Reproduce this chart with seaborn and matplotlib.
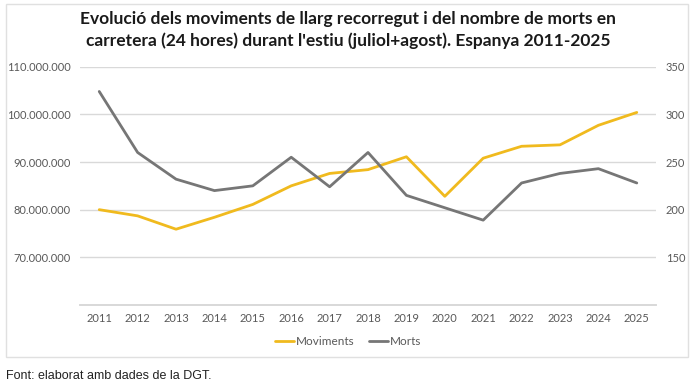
import matplotlib
matplotlib.use("Agg")
import matplotlib.pyplot as plt
from matplotlib.lines import Line2D
from matplotlib.patches import Rectangle
import pandas as pd
import seaborn as sns

years = list(range(2011, 2026))
moviments = [80.0e6, 78.7e6, 75.9e6, 78.4e6, 81.1e6, 85.0e6, 87.6e6, 88.4e6,
             91.1e6, 82.8e6, 90.8e6, 93.3e6, 93.6e6, 97.7e6, 100.4e6]
morts = [324, 260, 232, 220, 225, 255, 224, 260, 215, 202, 189, 228, 238, 243, 228]

left_ticks = [70e6, 80e6, 90e6, 100e6, 110e6]
right_ticks = [150, 200, 250, 300, 350]

title = ("Evolució dels moviments de llarg recorregut i del nombre de morts en\n"
         "carretera (24 hores) durant l'estiu (juliol+agost). Espanya 2011-2025")
source = "Font: elaborat amb dades de la DGT."

GOLD = "#F0BA1E"
GREY = "#767676"
GRID = "#D9D9D9"
TXT = "#595959"

sns.set_theme(style="white")
plt.rcParams["font.family"] = ["Lato", "DejaVu Sans"]

df = pd.DataFrame({"year": years, "moviments": moviments, "morts": morts})

fig = plt.figure(figsize=(6.96, 3.90), dpi=100)
ax = fig.add_axes([0.115, 0.218, 0.8275, 0.611])
ax2 = ax.twinx()

sns.lineplot(data=df, x="year", y="moviments", ax=ax, color=GOLD, linewidth=2)
sns.lineplot(data=df, x="year", y="morts", ax=ax2, color=GREY, linewidth=2)

ax.set_xlim(2010.5, 2025.5)
ax.set_ylim(60e6, 110e6)
ax2.set_ylim(100, 350)
ax.set_yticks(left_ticks)
ax.set_yticklabels([f"{v:,.0f}".replace(",", ".") for v in left_ticks])
ax2.set_yticks(right_ticks)
ax.set_xticks(years)
ax.set_xlabel("")
ax.set_ylabel("")
ax2.set_ylabel("")

ax.grid(axis="y", color=GRID, linewidth=1)
ax.set_axisbelow(True)
for a in (ax, ax2):
    for s in ("left", "right", "top"):
        a.spines[s].set_visible(False)
    a.spines["bottom"].set_color(GRID)
    a.tick_params(length=0, labelsize=8, labelcolor=TXT)
ax.tick_params(axis="y", pad=7)
ax2.tick_params(axis="y", pad=7)
ax.tick_params(axis="x", pad=6)

handles = [Line2D([], [], color=GOLD, linewidth=2),
           Line2D([], [], color=GREY, linewidth=2)]
fig.legend(handles, ["Moviments", "Morts"], loc="center", bbox_to_anchor=(0.5, 0.125),
           ncol=2, frameon=False, fontsize=8.5, handlelength=1.6, handletextpad=0.2,
           columnspacing=1.2, labelcolor=TXT)

fig.text(0.5, 0.923, title, ha="center", va="center", fontsize=12.5,
         fontweight="bold", color="#1a1a1a", linespacing=1.4)

fig.patches.append(Rectangle((0.008, 0.085), 0.98, 0.905, transform=fig.transFigure,
                             fill=False, edgecolor="#E0E0E0", linewidth=1))
fig.text(0.008, 0.035, source, ha="left", va="center", fontsize=9,
         family=["Liberation Sans Narrow", "Liberation Sans", "DejaVu Sans"], color="#222222")

fig.savefig("out.png", dpi=100)
